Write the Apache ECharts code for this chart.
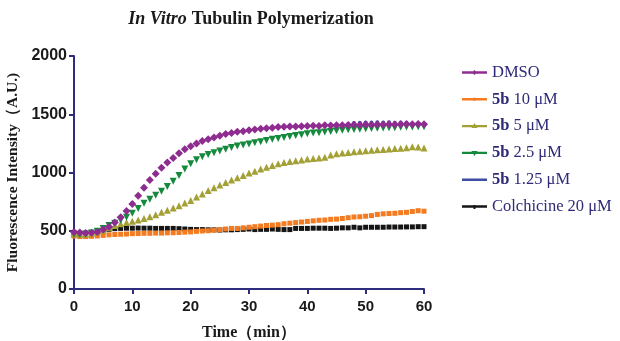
<!DOCTYPE html>
<html><head><meta charset="utf-8">
<script src="https://cdn.jsdelivr.net/npm/echarts@6/dist/echarts.min.js"></script>
<style>html,body{margin:0;padding:0;background:#fff}#c{width:620px;height:341px}</style>
</head><body><div id="c"></div>
<script>
const times = Array.from({length: 61}, (_, i) => i);
const seriesNames = ['DMSO', '5b 10 μM', '5b 5 μM', '5b 2.5 μM', '5b 1.25 μM', 'Colchicine 20 μM'];
const dmso = [490,485,480,482,490,510,535,570,615,670,730,800,870,935,990,1040,1085,1125,1165,1200,1225,1250,1270,1285,1300,1315,1330,1340,1350,1355,1362,1370,1375,1380,1385,1390,1392,1395,1395,1398,1400,1402,1400,1405,1404,1406,1405,1408,1410,1408,1412,1410,1413,1412,1415,1413,1415,1416,1414,1417,1415];
const b10 = [455,450,450,452,455,460,465,468,470,472,475,476,478,478,480,480,482,483,485,488,490,495,498,500,505,510,515,520,520,525,530,535,540,545,548,552,560,565,570,575,580,585,590,592,598,600,605,612,618,620,625,630,640,645,648,650,655,658,665,672,668];
const b5 = [475,470,470,478,490,505,525,545,560,570,582,592,605,620,638,658,675,695,715,738,760,790,815,845,870,892,915,935,955,975,995,1010,1030,1045,1060,1075,1085,1095,1100,1108,1115,1120,1125,1130,1150,1160,1168,1172,1178,1182,1186,1190,1195,1198,1202,1205,1208,1212,1222,1218,1210];
const b25 = [470,468,472,480,495,520,545,565,590,615,650,690,735,770,805,840,880,925,975,1030,1075,1110,1135,1155,1170,1185,1200,1215,1228,1235,1245,1255,1265,1275,1285,1292,1300,1310,1318,1325,1332,1338,1342,1348,1352,1358,1362,1368,1370,1372,1375,1378,1380,1382,1385,1385,1388,1390,1390,1393,1392];
const b125 = [488,484,480,483,492,512,538,572,618,672,735,805,878,940,995,1045,1088,1128,1168,1202,1228,1252,1272,1288,1302,1318,1332,1342,1352,1358,1365,1372,1378,1382,1388,1392,1395,1398,1398,1400,1402,1404,1403,1408,1408,1410,1410,1415,1425,1428,1430,1430,1432,1430,1432,1428,1430,1425,1418,1420,1418];
const colch = [480,475,478,485,495,505,512,518,520,522,522,523,522,522,520,520,520,520,518,515,512,510,510,508,508,506,508,508,510,512,515,510,512,512,515,512,510,510,520,520,520,522,522,522,520,522,525,525,530,525,530,530,530,530,532,532,532,533,533,535,535];
const yTicks = [0, 500, 1000, 1500, 2000];
const xTicks = [0, 10, 20, 30, 40, 50, 60];

const values = [dmso, b10, b5, b25, b125, colch];
const colors = ['#8E2C8F', '#F47B20', '#A3A035', '#15893C', '#3E4CA2', '#151515'];
const symbols = ['diamond', 'rect', 'triangle', 'path://M0,0 L10,0 L5,9 Z', 'circle', 'rect'];
const sizes = [8, 5, 7, 7, 4, 5];
const axisColor = '#2E2D7C';
const z = [6, 3, 4, 5, 2, 1];

// legend icons: thin line with a tiny marker in the middle (bbox forced to 25x14)
const bboxPts = 'M0,0 L0.01,0 L0,0.01 Z M25,14 L24.99,14 L25,13.99 Z ';
const lineRect = 'M0,5.8 L25,5.8 L25,8.2 L0,8.2 Z ';
const legendMarks = [
  'M12.5,4.5 L15,7 L12.5,9.5 L10,7 Z',
  'M11,5.5 L14,5.5 L14,8.5 L11,8.5 Z',
  'M12.5,4 L15.5,9 L9.5,9 Z',
  'M9.5,5 L15.5,5 L12.5,10 Z',
  'M11.5,6 L13.5,6 L13.5,8 L11.5,8 Z',
  'M11.5,5.5 L13.5,5.5 L13.5,9.5 L11.5,9.5 Z'
];

const chart = echarts.init(document.getElementById('c'), null, {renderer: 'canvas'});
const series = seriesNames.map((n, i) => ({
  name: n, type: 'line', data: times.map((t, j) => [t, values[i][j]]),
  symbol: symbols[i], symbolSize: sizes[i], showAllSymbol: true,
  itemStyle: {color: colors[i]}, lineStyle: {width: 0, color: colors[i]},
  z: z[i], animation: false
}));
chart.setOption({
  animation: false,
  title: {
    text: '{i|In Vitro} {n|Tubulin Polymerization}', left: 246, top: 5, textAlign: 'center',
    textStyle: {rich: {
      i: {fontFamily: 'Liberation Serif', fontStyle: 'italic', fontWeight: 'bold', fontSize: 18, color: '#1a1a1a'},
      n: {fontFamily: 'Liberation Serif', fontWeight: 'bold', fontSize: 18, color: '#1a1a1a'}
    }}
  },
  legend: {
    orient: 'vertical', left: 457, top: 59, itemWidth: 25, itemHeight: 14, itemGap: 9.8,
    data: seriesNames.map((n, i) => ({name: n, icon: 'path://' + bboxPts + lineRect + legendMarks[i]})),
    formatter: function (n) {
      if (n.indexOf('5b') === 0) return '{b|5b}{t|' + n.slice(2) + '}';
      return '{t|' + n + '}';
    },
    textStyle: {rich: {
      b: {fontFamily: 'Liberation Serif', fontWeight: 'bold', fontSize: 16.5, color: '#2E2A78'},
      t: {fontFamily: 'Liberation Serif', fontSize: 16.5, color: '#2E2A78'}
    }}
  },
  grid: {left: 74, right: 196, top: 56, bottom: 52, containLabel: false, outerBoundsMode: 'none'},
  xAxis: {
    type: 'value', min: 0, max: 60, interval: 10,
    name: 'Time（min）', nameLocation: 'middle', nameGap: 36,
    nameTextStyle: {fontFamily: 'Liberation Serif', fontWeight: 'bold', fontSize: 16, color: '#1a1a1a'},
    axisLine: {show: true, lineStyle: {color: axisColor, width: 2}},
    axisTick: {show: true, length: 5, lineStyle: {color: axisColor, width: 2}},
    axisLabel: {fontFamily: 'Liberation Sans', fontWeight: 'bold', fontSize: 15, color: '#1a1a1a', margin: 10},
    splitLine: {show: false}
  },
  yAxis: {
    type: 'value', min: 0, max: 2000, interval: 500,
    name: 'Fluorescence Intensity（A.U.)', nameLocation: 'middle', nameGap: 51, nameRotate: 90,
    nameTextStyle: {fontFamily: 'Liberation Serif', fontWeight: 'bold', fontSize: 15.5, color: '#1a1a1a'},
    axisLine: {show: true, lineStyle: {color: axisColor, width: 2}},
    axisTick: {show: true, length: 5, lineStyle: {color: axisColor, width: 2}},
    axisLabel: {fontFamily: 'Liberation Sans', fontWeight: 'bold', fontSize: 16, color: '#1a1a1a', margin: 7,
      formatter: v => String(v)},
    splitLine: {show: false}
  },
  series: series
});
</script></body></html>
